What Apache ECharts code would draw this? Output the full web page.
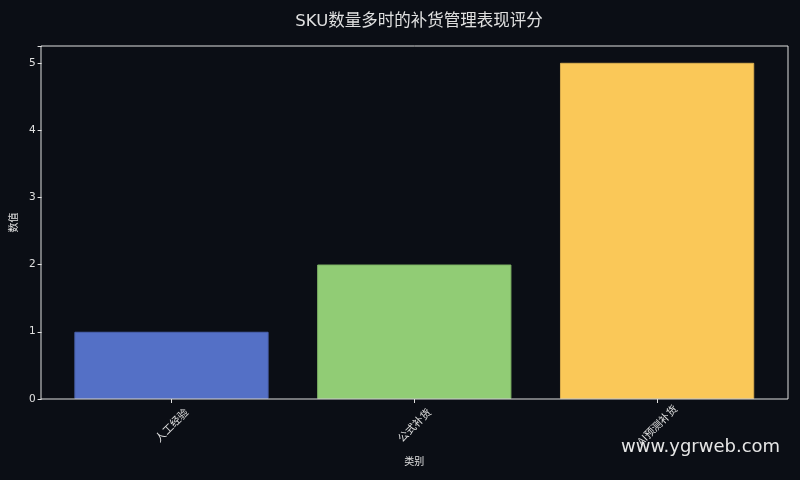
<!DOCTYPE html>
<html>
<head>
<meta charset="utf-8">
<script src="https://cdn.jsdelivr.net/npm/echarts@6/dist/echarts.min.js"></script>
<style>
  html, body { margin: 0; padding: 0; background: #0b0e15; }
  #chart { width: 800px; height: 480px; }
</style>
</head>
<body>
<div id="chart"></div>
<script>
// 数据
const categories = ['人工经验', '公式补货', 'AI预测补货'];
const scores = [1, 2, 5];
const barColors = ['#5470c6', '#91cc75', '#fac858'];
const edgeColors = ['#4a62ad', '#7fb466', '#d9ad4f'];
const yTicks = [0, 1, 2, 3, 4, 5];

const textColor = '#e0e0e0';
const lineColor = '#e0e0e0';

function drawChart() {
    const myChart = echarts.init(document.getElementById('chart'));

    const option = {
        backgroundColor: '#0b0e15',
        animation: false,
        title: {
            text: 'SKU数量多时的补货管理表现评分',
            left: 414,
            textAlign: 'center',
            top: 8,
            textStyle: {
                color: textColor,
                fontSize: 16.5,
                fontWeight: 'normal',
                fontFamily: 'DejaVu Sans, Noto Sans CJK SC'
            }
        },
        grid: {
            left: 49.5,
            right: 21.5,
            top: 46,
            bottom: 81
        },
        xAxis: {
            type: 'category',
            data: categories,
            name: '类别',
            nameLocation: 'middle',
            nameGap: 57,
            nameTextStyle: { color: textColor, fontSize: 10, fontFamily: 'Noto Sans CJK SC' },
            axisLine: { show: false },
            axisTick: { show: true, alignWithLabel: true, length: 4, lineStyle: { color: lineColor } },
            axisLabel: {
                rotate: 45,
                align: 'center',
                verticalAlign: 'middle',
                color: textColor,
                fontSize: 10.5,
                margin: 26,
                fontFamily: 'Noto Sans CJK SC'
            },
            splitLine: { show: false }
        },
        yAxis: {
            type: 'value',
            min: 0,
            max: 5.25,
            interval: 1,
            offset: 8.5,
            name: '数值',
            nameLocation: 'middle',
            nameGap: 21,
            nameTextStyle: { color: textColor, fontSize: 10, fontFamily: 'Noto Sans CJK SC' },
            axisLine: { show: false },
            axisTick: { show: true, length: 4, lineStyle: { color: lineColor } },
            axisLabel: {
                color: textColor,
                fontSize: 10.5,
                margin: 6,
                fontFamily: 'DejaVu Sans',
                formatter: v => (yTicks.indexOf(v) >= 0 ? String(v) : '')
            },
            splitLine: { show: false }
        },
        graphic: [
            {
                type: 'rect',
                shape: { x: 41, y: 46, width: 747, height: 353 },
                style: { fill: 'none', stroke: lineColor, lineWidth: 1 },
                z: 100,
                silent: true
            },
            {
                type: 'text',
                left: 621,
                top: 438,
                style: {
                    text: 'www.ygrweb.com',
                    fill: '#e6e6e6',
                    fontSize: 18,
                    fontFamily: 'DejaVu Sans'
                },
                z: 200
            }
        ],
        series: [
            {
                type: 'bar',
                barWidth: '80%',
                data: scores.map((v, i) => ({
                    value: v,
                    itemStyle: {
                        color: barColors[i],
                        borderColor: edgeColors[i],
                        borderWidth: 1
                    }
                }))
            }
        ]
    };

    myChart.setOption(option);
}

window.onload = drawChart;
</script>
</body>
</html>
